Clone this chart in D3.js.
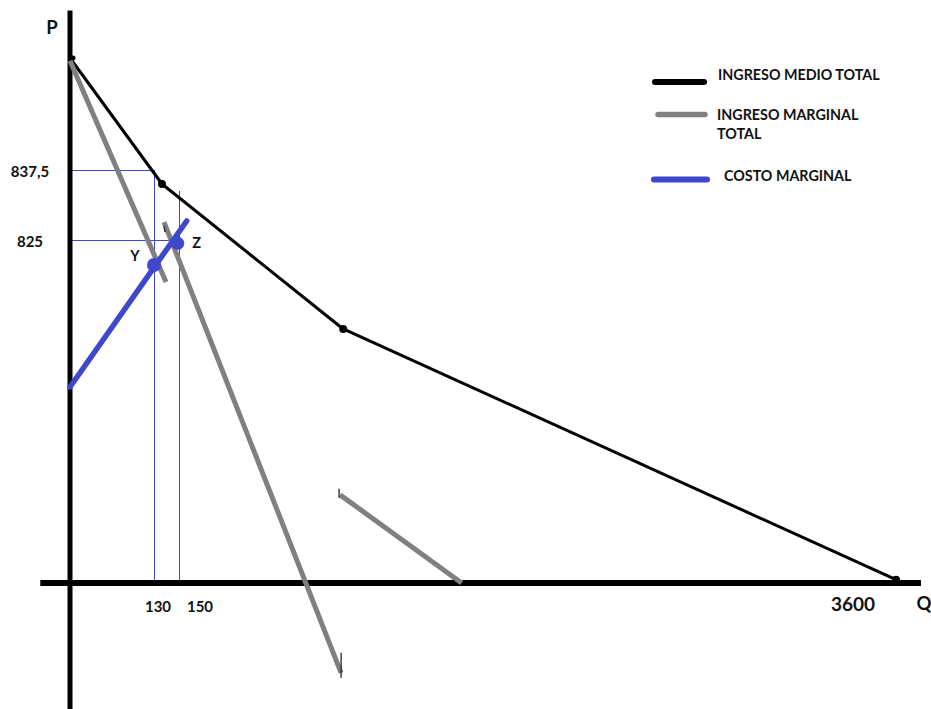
<!DOCTYPE html>
<html>
<head>
<meta charset="utf-8">
<script src="https://cdn.jsdelivr.net/npm/d3@7"></script>
<style>
  html, body { margin: 0; padding: 0; background: #fff; }
  svg { display: block; }
  text { font-family: Lato, "Open Sans", sans-serif; font-weight: bold; fill: #111; }
</style>
</head>
<body>
<svg id="chart" width="931" height="709"></svg>
<script>
// ---------- data ----------
const qTicks = [130, 150, 3600];
const pTicks = [825, 837.5];

// Ingreso medio total (kinked demand)
const demandQ = [0, 136.4, 940, 3600];
const demandP = [857.5, 835, 611, 8];

// Ingreso marginal total (three segments)
const mr1Q = [0, 139.6];
const mr1P = [857, 724];
const mr2Q = [138, 930];
const mr2P = [828.2, -216];
const mr3Q = [925, 1510];
const mr3P = [212, 0];

// Costo marginal
const mcQ = [0, 187];
const mcP = [471.5, 828.4];

// Labelled points
const pointNames = ["Y", "Z"];
const pointQ = [130, 149];
const pointP = [765, 817];

// Guide lines [q1, p1, q2, p2]
const guides = [
  [0, 837.5, 130, 837.5],
  [130, 837.5, 130, 0],
  [0, 825, 150, 825],
  [150, 834, 150, 0]
];

// Axis extents
const qAxisExtent = [-46, 3720];
const pAxisExtent = [-305, 866];

const legendNames = [["INGRESO MEDIO TOTAL"], ["INGRESO MARGINAL", "TOTAL"], ["COSTO MARGINAL"]];
const legendColors = ["#000000", "#808080", "#3f48cc"];

// ---------- drawing ----------
const svg = d3.select("#chart");
const x = d3.scaleLinear().domain([0, 130, 150, 3600]).range([70, 154, 179, 896]);
const y = d3.scaleLinear().domain([0, 825, 837.5]).range([583, 240, 170]);
const fmt = d3.formatLocale({decimal: ",", thousands: ".", grouping: [3], currency: ["", ""]}).format("~g");

const line = d3.line().x(d => x(d[0])).y(d => y(d[1]));
const zipQP = (qs, ps) => qs.map((q, i) => [q, ps[i]]);

// guide lines
svg.append("g").attr("shape-rendering", "crispEdges").selectAll("line").data(guides).join("line")
  .attr("x1", d => Math.round(x(d[0])) + 0.5).attr("y1", d => Math.round(y(d[1])) + 0.5)
  .attr("x2", d => Math.round(x(d[2])) + 0.5).attr("y2", d => Math.round(y(d[3])) + 0.5)
  .attr("stroke", "#3f48cc").attr("stroke-width", 1);

// axes (thick black lines)
svg.append("line")
  .attr("x1", x(0)).attr("x2", x(0))
  .attr("y1", y(pAxisExtent[1])).attr("y2", y(pAxisExtent[0]))
  .attr("stroke", "#000").attr("stroke-width", 5);
svg.append("line")
  .attr("x1", x(qAxisExtent[0])).attr("x2", x(qAxisExtent[1]))
  .attr("y1", y(0)).attr("y2", y(0))
  .attr("stroke", "#000").attr("stroke-width", 6);

// demand
svg.append("path").attr("d", line(zipQP(demandQ, demandP)))
  .attr("fill", "none").attr("stroke", "#000").attr("stroke-width", 3).attr("stroke-linejoin", "round");
svg.append("g").selectAll("circle").data(zipQP(demandQ, demandP)).join("circle")
  .attr("cx", d => x(d[0]) + (d[0] === 0 ? 3 : 0)).attr("cy", d => y(d[1]))
  .attr("r", (d, i) => i === 0 ? 2.5 : 4).attr("fill", "#000");

// marginal revenue
[[mr1Q, mr1P], [mr2Q, mr2P], [mr3Q, mr3P]].forEach(([qs, ps]) => {
  svg.append("path").attr("d", line(zipQP(qs, ps)))
    .attr("fill", "none").attr("stroke", "#808080").attr("stroke-width", 5);
});
// small pencil marks at segment ends
svg.append("line").attr("x1", x(mr2Q[1])).attr("x2", x(mr2Q[1]))
  .attr("y1", y(mr2P[1]) - 20).attr("y2", y(mr2P[1]) + 5).attr("stroke", "#222").attr("stroke-width", 1.3);
svg.append("line").attr("x1", x(mr3Q[0]) - 1).attr("x2", x(mr3Q[0]) - 1)
  .attr("y1", y(mr3P[0]) - 6).attr("y2", y(mr3P[0]) + 3).attr("stroke", "#222").attr("stroke-width", 1.3);
svg.append("line").attr("x1", x(mr2Q[0])).attr("x2", x(mr2Q[0]) + 1)
  .attr("y1", y(mr2P[0]) + 4).attr("y2", y(mr2P[0]) + 10).attr("stroke", "#222").attr("stroke-width", 1.3);

// marginal cost
svg.append("path").attr("d", line(zipQP(mcQ, mcP)))
  .attr("fill", "none").attr("stroke", "#3f48cc").attr("stroke-width", 5.5).attr("stroke-linecap", "round");
svg.append("g").selectAll("circle").data(pointQ).join("circle")
  .attr("cx", (d, i) => x(d)).attr("cy", (d, i) => y(pointP[i]))
  .attr("r", (d, i) => i === 0 ? 7 : 6.5).attr("fill", "#3f48cc");
svg.append("g").selectAll("text").data(pointNames).join("text")
  .attr("x", (d, i) => x(pointQ[i]) + (i === 0 ? -19 : 19))
  .attr("y", (d, i) => y(pointP[i]) + (i === 0 ? -9 : -1))
  .attr("text-anchor", "middle").attr("dominant-baseline", "central")
  .attr("font-size", 14.5).text(d => d);

// P tick labels
svg.append("g").selectAll("text").data(pTicks).join("text")
  .attr("x", 30).attr("y", d => y(d) + 1)
  .attr("text-anchor", "middle").attr("dominant-baseline", "central")
  .attr("font-size", 15).text(d => fmt(d));

// Q tick labels
svg.append("g").selectAll("text").data(qTicks).join("text")
  .attr("x", (d, i) => x(d) + [4, 21, -43][i])
  .attr("y", (d, i) => i === 2 ? 603 : 606)
  .attr("text-anchor", "middle").attr("dominant-baseline", "central")
  .attr("font-size", (d, i) => i === 2 ? 19 : 15).text(d => fmt(d));

// axis titles
svg.append("text").attr("x", 52).attr("y", 27).attr("text-anchor", "middle")
  .attr("dominant-baseline", "central").attr("font-size", 18.5).text("P");
svg.append("text").attr("x", 924).attr("y", 603).attr("text-anchor", "middle")
  .attr("dominant-baseline", "central").attr("font-size", 18.5).text("Q");

// legend
const legendLayout = [
  {x1: 655, x2: 704, ly: 82, w: 6, tx: 718, ty: 80},
  {x1: 658, x2: 705, ly: 114.5, w: 5.5, tx: 717, ty: 120},
  {x1: 654, x2: 707, ly: 179.5, w: 6, tx: 724, ty: 181}
];
const lg = svg.append("g");
legendNames.forEach((lines, i) => {
  const L = legendLayout[i];
  lg.append("line").attr("x1", L.x1).attr("x2", L.x2).attr("y1", L.ly).attr("y2", L.ly)
    .attr("stroke", legendColors[i]).attr("stroke-width", L.w).attr("stroke-linecap", "round");
  lines.forEach((t, j) => {
    lg.append("text").attr("x", L.tx).attr("y", L.ty + j * 18.5)
      .attr("font-size", 14.3).text(t);
  });
});
</script>
</body>
</html>
